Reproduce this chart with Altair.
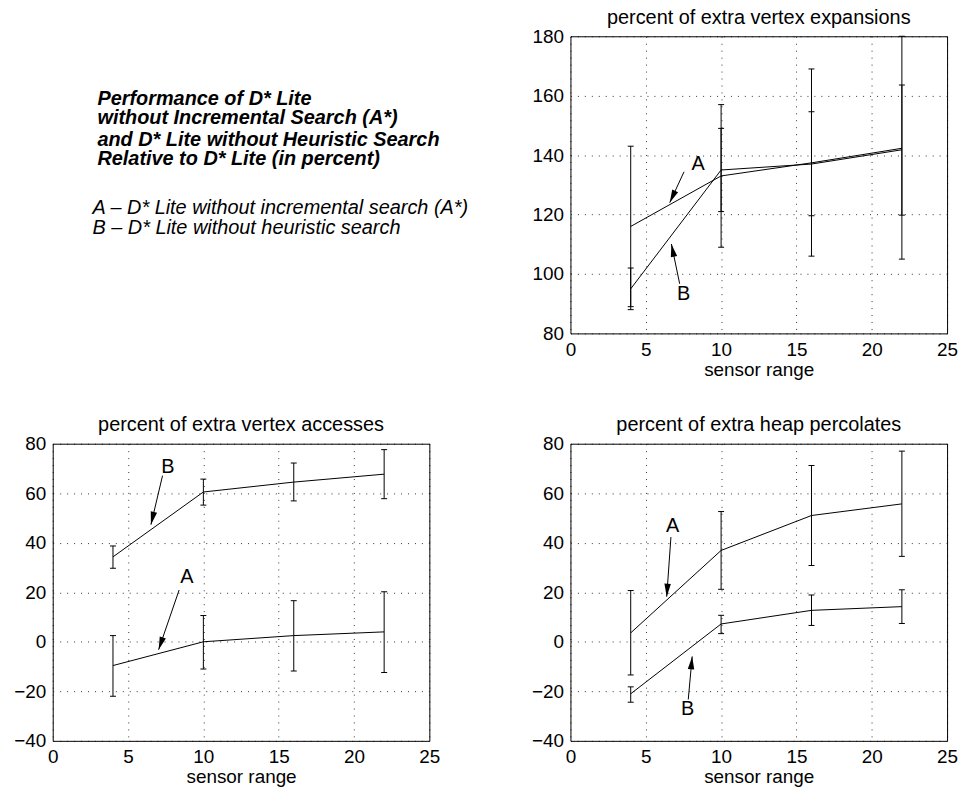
import math
import altair as alt
import pandas as pd

FONT = "Liberation Sans"
FS = 20
AFS = 19

sensor_range = [4, 10, 16, 22]
x_ticks = [0, 5, 10, 15, 20, 25]

# --- percent of extra vertex expansions ---
exp_A_mean = [116, 133, 137.4, 142.3]
exp_A_lo = [89, 109, 106, 105]
exp_A_hi = [143, 157, 169, 180]
exp_B_mean = [95, 135, 137, 141.8]
exp_B_lo = [88, 121, 119.6, 119.8]
exp_B_hi = [102, 149, 154.6, 163.6]

# --- percent of extra vertex accesses ---
acc_A_mean = [-9.6, 0, 2.5, 4]
acc_A_lo = [-22, -11, -11.8, -12.4]
acc_A_hi = [2.5, 10.6, 16.6, 20.2]
acc_B_mean = [34.3, 60.5, 64.5, 67.7]
acc_B_lo = [29.7, 55.2, 56.9, 57.8]
acc_B_hi = [38.7, 65.7, 72.2, 77.6]

# --- percent of extra heap percolates ---
perc_A_mean = [3.6, 36.9, 51, 55.7]
perc_A_lo = [-13.4, 21.2, 30.8, 34.5]
perc_A_hi = [20.7, 52.6, 71.2, 77]
perc_B_mean = [-21, 7.2, 12.7, 14.2]
perc_B_lo = [-24.4, 3.3, 6.6, 7.4]
perc_B_hi = [-18.2, 10.7, 18.9, 21]

# annotation: label, label x, label y, arrow start x, y, arrow tip x, y
exp_ann = [("A", 8.47, 136.9, 7.54, 134.4, 6.59, 124.0),
           ("B", 7.52, 93.4, 7.25, 96.7, 6.70, 110.1)]
acc_ann = [("B", 7.64, 70.4, 7.29, 67.1, 6.52, 47.3),
           ("A", 8.90, 26.2, 8.39, 20.9, 7.03, -3.2)]
perc_ann = [("A", 6.78, 46.7, 6.67, 42.3, 6.39, 18.2),
            ("B", 7.78, -27.3, 7.82, -23.3, 8.08, -5.9)]

title_lines = ["Performance of D* Lite",
               "without Incremental Search (A*)",
               "and D* Lite without Heuristic Search",
               "Relative to D* Lite (in percent)"]
legend_lines = ["A \u2013 D* Lite without incremental search (A*)",
                "B \u2013 D* Lite without heuristic search"]

W, H = 379, 299
HEAD_LEN = 13
HEAD_SHAPE = "M0,-1L0.5,1L-0.5,1Z"


def panel(title, y_domain, y_ticks, A, B, ann):
    rows = []
    for name, (m, lo, hi) in (("A", A), ("B", B)):
        for xv, mv, lv, hv in zip(sensor_range, m, lo, hi):
            rows.append({"series": name, "x": xv, "mean": mv, "lo": lv, "hi": hv})
    df = pd.DataFrame(rows)

    px_x = W / (x_ticks[-1] - x_ticks[0])
    px_y = H / (y_domain[1] - y_domain[0])
    arows = []
    for lab, lx, ly, x1, y1, x2, y2 in ann:
        dxs = (x2 - x1) * px_x
        dys = -(y2 - y1) * px_y
        ln = math.hypot(dxs, dys)
        ux, uy = dxs / ln, dys / ln
        ang = math.degrees(math.atan2(dxs, -dys)) % 360
        cx = x2 - ux * HEAD_LEN / 2 / px_x
        cy = y2 + uy * HEAD_LEN / 2 / px_y
        arows.append({"label": lab, "lx": lx, "ly": ly, "x1": x1, "y1": y1,
                      "x2": x2, "y2": y2, "cx": cx, "cy": cy, "ang": ang})
    adf = pd.DataFrame(arows)

    xscale = alt.Scale(domain=[x_ticks[0], x_ticks[-1]], nice=False, zero=False)
    yscale = alt.Scale(domain=y_domain, nice=False, zero=False)
    xaxis = alt.Axis(values=x_ticks, title="sensor range")
    yaxis = alt.Axis(values=y_ticks, title=None)

    def X(f):
        return alt.X(f, type="quantitative", scale=xscale, axis=xaxis)

    def Y(f):
        return alt.Y(f, type="quantitative", scale=yscale, axis=yaxis)

    base = alt.Chart(df)
    lines = base.mark_line(color="black", strokeWidth=1).encode(
        x=X("x"), y=Y("mean"), detail="series:N")
    bars = base.mark_rule(color="black", strokeWidth=1).encode(
        x=X("x"), y=Y("lo"), y2="hi")
    cap_lo = base.mark_rule(color="black", strokeWidth=1, xOffset=-3, x2Offset=3).encode(
        x=X("x"), x2="x", y=Y("lo"))
    cap_hi = base.mark_rule(color="black", strokeWidth=1, xOffset=-3, x2Offset=3).encode(
        x=X("x"), x2="x", y=Y("hi"))

    abase = alt.Chart(adf)
    arrows = abase.mark_rule(color="black", strokeWidth=1).encode(
        x=X("x1"), y=Y("y1"), x2="x2", y2="y2")
    heads = abase.mark_point(shape=HEAD_SHAPE, filled=True, color="black", opacity=1,
                             size=HEAD_LEN * HEAD_LEN, strokeWidth=0).encode(
        x=X("cx"), y=Y("cy"), angle=alt.Angle("ang:Q", scale=None))
    labels = abase.mark_text(font=FONT, fontSize=FS, color="black",
                             align="center", baseline="middle").encode(
        x=X("lx"), y=Y("ly"), text="label:N")

    return alt.layer(lines, bars, cap_lo, cap_hi, arrows, heads, labels).properties(
        width=W, height=H,
        title=alt.TitleParams(title, font=FONT, fontSize=FS, fontWeight="normal",
                              color="black", offset=-0.5))


dummy = pd.DataFrame({"v": [0]})
text_layers = []
for i, line in enumerate(title_lines):
    text_layers.append(alt.Chart(dummy).mark_text(
        font=FONT, fontSize=FS, fontWeight="bold", fontStyle="italic",
        align="left", baseline="alphabetic", color="black").encode(
        x=alt.value(45), y=alt.value([68.7, 88.7, 110, 130][i]), text=alt.value(line)))
for i, line in enumerate(legend_lines):
    text_layers.append(alt.Chart(dummy).mark_text(
        font=FONT, fontSize=FS, fontStyle="italic",
        align="left", baseline="alphabetic", color="black").encode(
        x=alt.value(40), y=alt.value([178.7, 198.7][i]), text=alt.value(line)))
text_cell = alt.layer(*text_layers).properties(
    width=W, height=H, view=alt.ViewBackground(strokeOpacity=0))

p_exp = panel("percent of extra vertex expansions", [80, 180], [80, 100, 120, 140, 160, 180],
              (exp_A_mean, exp_A_lo, exp_A_hi), (exp_B_mean, exp_B_lo, exp_B_hi), exp_ann)
p_acc = panel("percent of extra vertex accesses", [-40, 80], [-40, -20, 0, 20, 40, 60, 80],
              (acc_A_mean, acc_A_lo, acc_A_hi), (acc_B_mean, acc_B_lo, acc_B_hi), acc_ann)
p_perc = panel("percent of extra heap percolates", [-40, 80], [-40, -20, 0, 20, 40, 60, 80],
               (perc_A_mean, perc_A_lo, perc_A_hi), (perc_B_mean, perc_B_lo, perc_B_hi), perc_ann)

chart = alt.concat(text_cell, p_exp, p_acc, p_perc, columns=2,
                   spacing=alt.RowColnumber(row=111, column=142),
                   bounds="flush").properties(
    padding=alt.Padding(top=-3, bottom=-3, left=5, right=0), background="white"
).configure_view(stroke="black", strokeWidth=1).configure_axis(
    domain=False, ticks=False, grid=True, gridColor="black", gridDash=[1, 6],
    gridOpacity=0.8, gridWidth=1,
    labelFont=FONT, labelFontSize=AFS, labelColor="black", labelPadding=7,
    labelFlush=False,
    titleFont=FONT, titleFontSize=AFS, titleFontWeight="normal", titleColor="black",
    titlePadding=1
)

chart.save("out.html", embed_options={"renderer": "svg", "actions": False})
